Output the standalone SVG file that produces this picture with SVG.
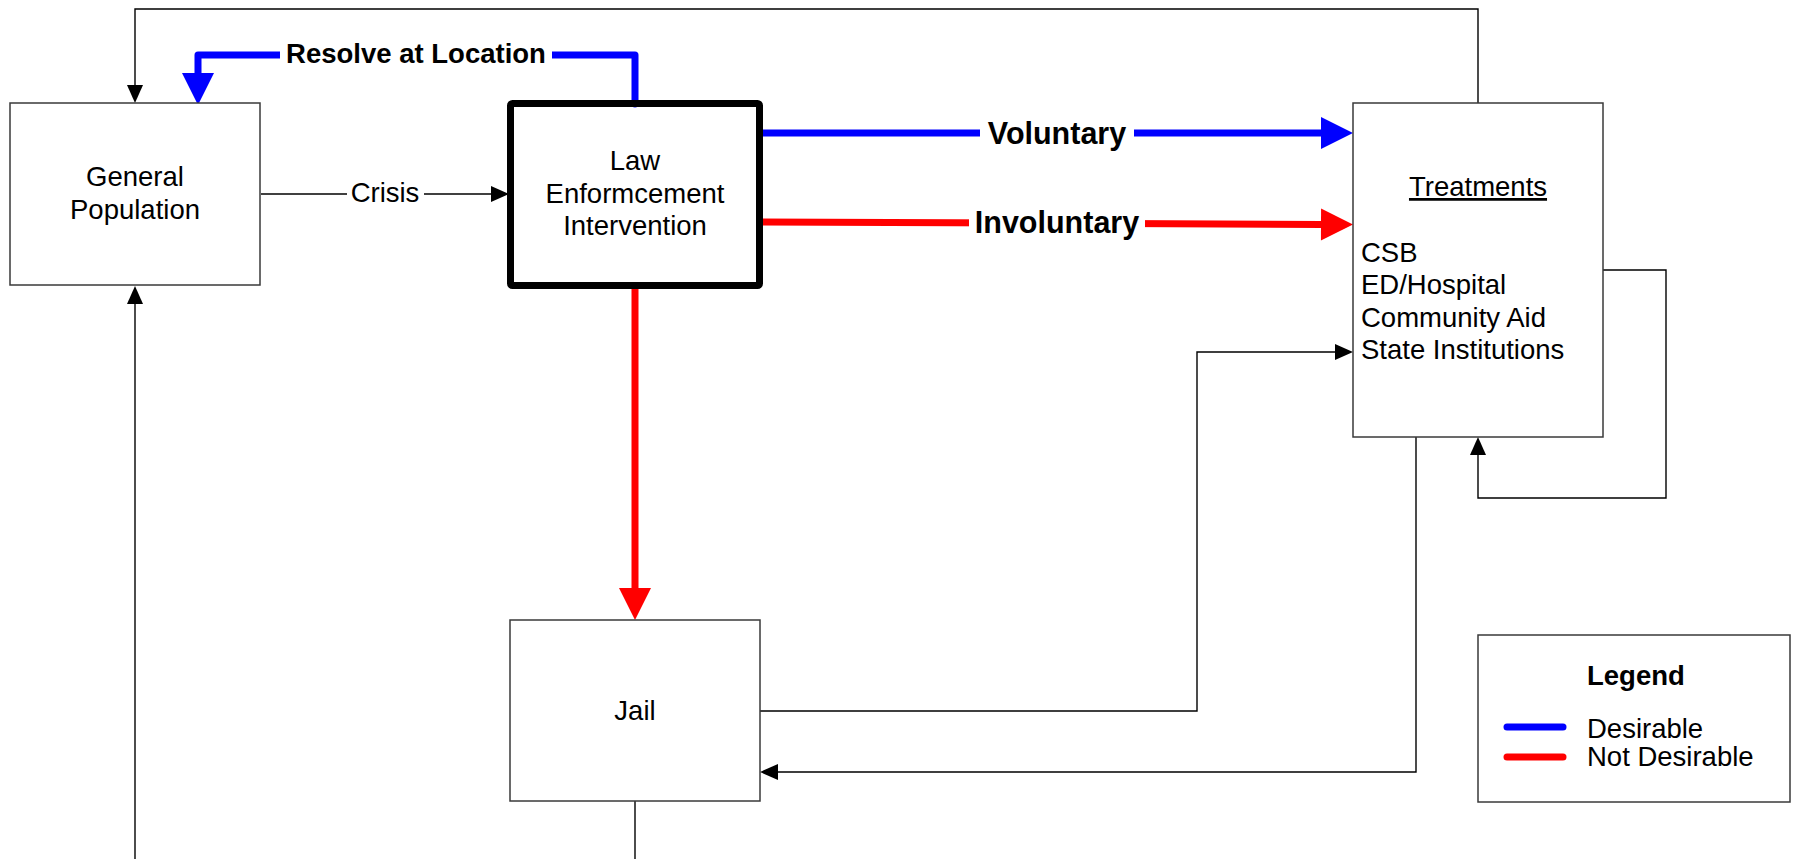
<svg xmlns="http://www.w3.org/2000/svg" width="1793" height="859" viewBox="0 0 1793 859">
<style>
text{font-family:"Liberation Sans",Arial,sans-serif;font-size:27.5px;fill:#000}
.b{font-weight:bold}
.big{font-size:30.5px}
.box{fill:#fff;stroke:#3a3a3a;stroke-width:1.5}
.thin{fill:none;stroke:#000;stroke-width:1.4}
.blue{fill:none;stroke:#0000ff;stroke-width:7;stroke-linejoin:round}
.red{fill:none;stroke:#ff0000;stroke-width:7;stroke-linejoin:round}
.bg{fill:#fff}
</style>
<defs>
<marker id="ak" markerUnits="userSpaceOnUse" markerWidth="18" markerHeight="16" refX="0" refY="8" orient="auto" overflow="visible"><path d="M0,0 L18,8 L0,16 z" fill="#000"/></marker>
<marker id="ab" markerUnits="userSpaceOnUse" markerWidth="32" markerHeight="32" refX="0" refY="16" orient="auto" overflow="visible"><path d="M0,0 L32,16 L0,32 z" fill="#0000ff"/></marker>
<marker id="ar" markerUnits="userSpaceOnUse" markerWidth="32" markerHeight="32" refX="0" refY="16" orient="auto" overflow="visible"><path d="M0,0 L32,16 L0,32 z" fill="#ff0000"/></marker>
</defs>
<rect width="1793" height="859" fill="#fff"/>
<g id="connectors">
<path class="thin" d="M1478,103 V9 H135 V85" marker-end="url(#ak)"/>
<path class="thin" d="M261,194 H491" marker-end="url(#ak)"/>
<path class="thin" d="M135,859 V304" marker-end="url(#ak)"/>
<path class="thin" d="M760,711 H1197 V352 H1335" marker-end="url(#ak)"/>
<path class="thin" d="M1416,437 V772 H778" marker-end="url(#ak)"/>
<path class="thin" d="M1603,270 H1666 V498 H1478 V455" marker-end="url(#ak)"/>
<path class="thin" d="M635,801 V859"/>
<path class="blue" d="M635,104 V55 H198 V73" stroke-linecap="round" marker-end="url(#ab)"/>
<path class="blue" d="M762,133 H1321" marker-end="url(#ab)"/>
<path class="red" d="M762,222 L1321,224.4" marker-end="url(#ar)"/>
<path class="red" d="M635,288 V588" marker-end="url(#ar)"/>
<rect class="bg" x="347" y="180" width="77" height="28"/>
<text x="385" y="202" text-anchor="middle">Crisis</text>
<rect class="bg" x="280" y="38" width="272" height="34"/>
<text class="b" x="416" y="63" text-anchor="middle">Resolve at Location</text>
<rect class="bg" x="980" y="115" width="154" height="36"/>
<text class="b big" x="1057" y="144" text-anchor="middle">Voluntary</text>
<rect class="bg" x="969" y="204" width="176" height="38"/>
<text class="b big" x="1057" y="233" text-anchor="middle">Involuntary</text>
</g>
<g id="general-population">
<rect class="box" x="10" y="103" width="250" height="182"/>
<text x="135" y="186" text-anchor="middle">General</text>
<text x="135" y="219" text-anchor="middle">Population</text>
</g>
<g id="law-enforcement">
<rect x="510.5" y="103.5" width="249" height="182" rx="2" fill="none" stroke="#000" stroke-width="7"/>
<text x="635" y="170" text-anchor="middle">Law</text>
<text x="635" y="202.5" text-anchor="middle">Enformcement</text>
<text x="635" y="235" text-anchor="middle">Intervention</text>
</g>
<g id="treatments">
<rect class="box" x="1353" y="103" width="250" height="334" fill="none"/>
<text x="1478" y="196" text-anchor="middle" text-decoration="underline">Treatments</text>
<text x="1361" y="262">CSB</text>
<text x="1361" y="294">ED/Hospital</text>
<text x="1361" y="327">Community Aid</text>
<text x="1361" y="359">State Institutions</text>
</g>
<g id="jail">
<rect class="box" x="510" y="620" width="250" height="181"/>
<text x="635" y="720" text-anchor="middle">Jail</text>
</g>
<g id="legend">
<rect class="box" x="1478" y="635" width="312" height="167"/>
<text class="b" x="1587" y="685">Legend</text>
<line x1="1507" y1="727" x2="1563" y2="727" stroke="#0000ff" stroke-width="7" stroke-linecap="round"/>
<line x1="1507" y1="757" x2="1563" y2="757" stroke="#ff0000" stroke-width="7" stroke-linecap="round"/>
<text x="1587" y="738">Desirable</text>
<text x="1587" y="766">Not Desirable</text>
</g>
</svg>
